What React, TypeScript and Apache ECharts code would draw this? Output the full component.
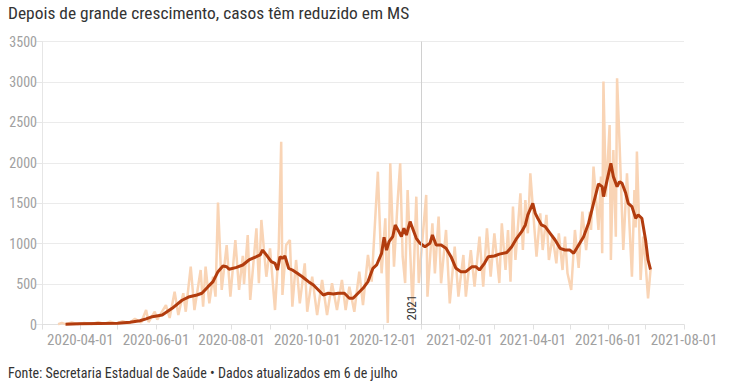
import React, { useEffect, useRef } from "react";
import * as echarts from "echarts";

const titleText = "Depois de grande crescimento, casos têm reduzido em MS";
const footerText = "Fonte: Secretaria Estadual de Saúde • Dados atualizados em 6 de julho";

const tickDates = [
  "2020-03-01", "2020-04-01", "2020-05-01", "2020-06-01", "2020-07-01", "2020-08-01",
  "2020-09-01", "2020-10-01", "2020-11-01", "2020-12-01", "2021-01-01", "2021-02-01",
  "2021-03-01", "2021-04-01", "2021-05-01", "2021-06-01", "2021-07-01", "2021-08-01",
];
const labelDates = [
  "2020-04-01", "2020-06-01", "2020-08-01", "2020-10-01", "2020-12-01",
  "2021-02-01", "2021-04-01", "2021-06-01", "2021-08-01",
];
const yTicks = [0, 500, 1000, 1500, 2000, 2500, 3000, 3500];

// 7-day moving average (dark line)
const maDates = [
  "2020-03-20", "2020-03-31", "2020-04-16", "2020-05-01", "2020-05-11", "2020-05-19", "2020-05-24", "2020-05-29",
  "2020-06-06", "2020-06-14", "2020-06-22", "2020-06-28", "2020-07-04", "2020-07-08", "2020-07-13", "2020-07-17",
  "2020-07-21", "2020-07-25", "2020-07-28", "2020-07-30", "2020-08-05", "2020-08-10", "2020-08-15", "2020-08-21",
  "2020-08-24", "2020-08-26", "2020-08-29", "2020-09-02", "2020-09-05", "2020-09-07", "2020-09-09", "2020-09-11",
  "2020-09-13", "2020-09-16", "2020-09-19", "2020-09-23", "2020-09-27", "2020-10-02", "2020-10-06", "2020-10-10",
  "2020-10-14", "2020-10-18", "2020-10-22", "2020-10-26", "2020-10-31", "2020-11-04", "2020-11-07", "2020-11-11",
  "2020-11-15", "2020-11-19", "2020-11-23", "2020-11-26", "2020-11-30", "2020-12-02", "2020-12-04", "2020-12-06",
  "2020-12-09", "2020-12-11", "2020-12-14", "2020-12-16", "2020-12-18", "2020-12-20", "2020-12-23", "2020-12-24",
  "2020-12-28", "2020-12-31", "2021-01-04", "2021-01-08", "2021-01-10", "2021-01-13", "2021-01-17", "2021-01-21",
  "2021-01-25", "2021-01-29", "2021-02-02", "2021-02-06", "2021-02-11", "2021-02-14", "2021-02-17", "2021-02-21",
  "2021-02-24", "2021-03-01", "2021-03-05", "2021-03-11", "2021-03-15", "2021-03-19", "2021-03-23", "2021-03-26",
  "2021-03-28", "2021-04-01", "2021-04-03", "2021-04-05", "2021-04-08", "2021-04-11", "2021-04-15", "2021-04-19",
  "2021-04-23", "2021-04-27", "2021-05-01", "2021-05-04", "2021-05-08", "2021-05-12", "2021-05-16", "2021-05-20",
  "2021-05-24", "2021-05-27", "2021-05-28", "2021-05-31", "2021-06-03", "2021-06-05", "2021-06-08", "2021-06-10",
  "2021-06-12", "2021-06-15", "2021-06-17", "2021-06-20", "2021-06-23", "2021-06-25", "2021-06-28", "2021-07-01",
  "2021-07-03", "2021-07-05",
];
const maValues = [
  4, 8, 12, 16, 28, 47, 70, 97,
  117, 200, 300, 344, 365, 386, 468, 530,
  653, 724, 715, 683, 707, 736, 798, 839,
  860, 921, 860, 777, 757, 674, 839, 818,
  847, 695, 674, 633, 591, 530, 489, 427,
  365, 386, 377, 386, 386, 324, 324, 386,
  448, 530, 695, 736, 880, 1080, 920, 1024,
  1086, 1231, 1148, 1086, 1190, 1107, 1272, 1231,
  1066, 1004, 962, 1004, 1107, 983, 983, 942,
  839, 695, 653, 653, 715, 715, 674, 757,
  839, 847, 870, 890, 962, 1066, 1148, 1231,
  1355, 1499, 1375, 1314, 1231, 1210, 1128, 1045,
  942, 921, 921, 880, 983, 1086, 1252, 1499,
  1738, 1705, 1581, 1788, 1994, 1829, 1705, 1767,
  1746, 1623, 1499, 1458, 1314, 1355, 1314, 1045,
  798, 680,
];

// daily new cases (light line), read at weekly highs and lows
const rawDates = [
  "2020-03-14", "2020-03-17", "2020-03-20", "2020-03-25", "2020-03-30", "2020-04-04", "2020-04-10", "2020-04-15",
  "2020-04-20", "2020-04-25", "2020-04-30", "2020-05-05", "2020-05-10", "2020-05-15", "2020-05-20", "2020-05-24",
  "2020-05-26", "2020-05-31", "2020-06-02", "2020-06-09", "2020-06-12", "2020-06-16", "2020-06-19", "2020-06-23",
  "2020-06-25", "2020-06-29", "2020-07-02", "2020-07-07", "2020-07-09", "2020-07-11", "2020-07-14", "2020-07-17",
  "2020-07-19", "2020-07-21", "2020-07-24", "2020-07-28", "2020-07-31", "2020-08-04", "2020-08-07", "2020-08-10",
  "2020-08-11", "2020-08-14", "2020-08-16", "2020-08-21", "2020-08-23", "2020-08-25", "2020-08-29", "2020-09-01",
  "2020-09-05", "2020-09-08", "2020-09-10", "2020-09-11", "2020-09-14", "2020-09-17", "2020-09-19", "2020-09-22",
  "2020-09-25", "2020-09-29", "2020-10-01", "2020-10-05", "2020-10-09", "2020-10-13", "2020-10-17", "2020-10-21",
  "2020-10-25", "2020-10-29", "2020-11-01", "2020-11-04", "2020-11-08", "2020-11-12", "2020-11-15", "2020-11-19",
  "2020-11-22", "2020-11-27", "2020-11-30", "2020-12-03", "2020-12-05", "2020-12-07", "2020-12-10", "2020-12-13",
  "2020-12-15", "2020-12-17", "2020-12-19", "2020-12-21", "2020-12-25", "2020-12-28", "2020-12-30", "2021-01-05",
  "2021-01-06", "2021-01-10", "2021-01-12", "2021-01-15", "2021-01-17", "2021-01-21", "2021-01-24", "2021-01-28",
  "2021-01-31", "2021-02-04", "2021-02-06", "2021-02-10", "2021-02-13", "2021-02-17", "2021-02-20", "2021-02-23",
  "2021-02-26", "2021-03-01", "2021-03-05", "2021-03-07", "2021-03-10", "2021-03-12", "2021-03-14", "2021-03-16",
  "2021-03-18", "2021-03-22", "2021-03-24", "2021-03-26", "2021-03-28", "2021-03-30", "2021-04-04", "2021-04-07",
  "2021-04-09", "2021-04-12", "2021-04-14", "2021-04-17", "2021-04-20", "2021-04-22", "2021-04-25", "2021-04-27",
  "2021-04-29", "2021-05-02", "2021-05-05", "2021-05-08", "2021-05-11", "2021-05-14", "2021-05-17", "2021-05-18",
  "2021-05-20", "2021-05-24", "2021-05-26", "2021-05-27", "2021-05-28", "2021-05-30", "2021-06-02", "2021-06-03",
  "2021-06-05", "2021-06-07", "2021-06-08", "2021-06-10", "2021-06-13", "2021-06-16", "2021-06-20", "2021-06-22",
  "2021-06-23", "2021-06-24", "2021-06-26", "2021-06-27", "2021-06-29", "2021-07-01", "2021-07-03", "2021-07-05",
];
const rawValues = [
  3, 20, 5, 25, 5, 20, 5, 30,
  8, 35, 10, 40, 12, 70, 25, 179,
  30, 158, 60, 241, 80, 406, 117, 386,
  158, 715, 179, 674, 220, 715, 262, 591,
  344, 1507, 427, 983, 344, 1045, 427, 850,
  500, 1107, 303, 1190, 510, 1293, 591, 942,
  179, 942, 2261, 365, 983, 1045, 220, 798,
  262, 757, 158, 591, 117, 550, 117, 510,
  179, 550, 179, 468, 158, 653, 241, 860,
  530, 1890, 633, 1314, 20, 1994, 715, 1540,
  1994, 839, 513, 1664, 200, 1581, 513, 1602,
  344, 1252, 633, 1334, 510, 1169, 262, 962,
  344, 860, 344, 921, 468, 1086, 468, 1190,
  591, 1128, 513, 1252, 674, 1169, 530, 1458,
  798, 1623, 921, 1540, 1128, 1870, 839, 1375,
  921, 1355, 798, 1086, 757, 1128, 674, 1086,
  633, 427, 1169, 700, 1396, 921, 1396, 1169,
  1953, 1169, 1829, 880, 3004, 1581, 2468, 798,
  2159, 1086, 3046, 2241, 921, 1870, 591, 1664,
  1200, 2138, 1128, 550, 1086, 757, 324, 674,
];

const FONT = "'Roboto Condensed', 'Liberation Sans Narrow', 'Arial Narrow', Roboto, sans-serif";

function parseDate(s: string): number {
  return Date.UTC(+s.slice(0, 4), +s.slice(5, 7) - 1, +s.slice(8, 10));
}
function pad(n: number): string {
  return n < 10 ? "0" + n : "" + n;
}
function fmtDate(v: number): string {
  const d = new Date(Math.round(v));
  return `${d.getUTCFullYear()}-${pad(d.getUTCMonth() + 1)}-${pad(d.getUTCDate())}`;
}

export default function App() {
  const ref = useRef<HTMLDivElement>(null);
  useEffect(() => {
    if (!ref.current) return;
    const chart = echarts.init(ref.current, undefined, { renderer: "svg" });
    const raw = rawDates.map((d, i) => [parseDate(d), rawValues[i]]);
    const ma = maDates.map((d, i) => [parseDate(d), maValues[i]]);
    chart.setOption({
      animation: false,
      backgroundColor: "#ffffff",
      textStyle: { fontFamily: FONT },
      title: [
        {
          text: titleText,
          left: 8,
          top: 4,
          padding: 0,
          textStyle: { fontFamily: FONT, fontSize: 17.4, fontWeight: "normal", color: "#333333" },
        },
        {
          text: footerText,
          left: 8,
          top: 366,
          padding: 0,
          textStyle: { fontFamily: FONT, fontSize: 14, fontWeight: "normal", color: "#333333" },
        },
      ],
      grid: { left: 42, right: 47, top: 41.5, bottom: 64.5, containLabel: false },
      xAxis: {
        type: "value",
        min: parseDate(tickDates[0]),
        max: parseDate(tickDates[tickDates.length - 1]),
        axisLine: { show: true, lineStyle: { color: "#e0e0e0", width: 1 } },
        axisTick: {
          show: true,
          length: 5,
          customValues: tickDates.map(parseDate),
          lineStyle: { color: "#e0e0e0" },
        },
        axisLabel: {
          customValues: labelDates.map(parseDate),
          formatter: (v: number) => fmtDate(v),
          color: "#a0a0a0",
          fontSize: 15,
          fontFamily: FONT,
          margin: 8,
          hideOverlap: false,
        },
        splitLine: { show: false },
      },
      yAxis: {
        type: "value",
        min: yTicks[0],
        max: yTicks[yTicks.length - 1],
        interval: 500,
        axisLine: { show: true, lineStyle: { color: "#e6e6e6" } },
        axisTick: { show: true, length: 6, lineStyle: { color: "#e6e6e6" } },
        axisLabel: {
          color: "#a0a0a0",
          fontSize: 14,
          fontFamily: FONT,
          margin: 5,
          formatter: (v: number) => String(v),
        },
        splitLine: { show: true, lineStyle: { color: "#ebebeb", width: 1 } },
      },
      series: [
        {
          name: "Casos",
          type: "line",
          data: raw,
          symbol: "none",
          lineStyle: { color: "#f9d4b5", width: 2.5 },
          itemStyle: { color: "#f9d4b5" },
          z: 2,
          markLine: {
            silent: true,
            symbol: ["none", "none"],
            data: [{ xAxis: parseDate("2021-01-01") }],
            lineStyle: { color: "#d0d0d0", width: 1, type: "solid" },
            label: {
              show: true,
              formatter: "2021",
              position: "insideStartTop",
              color: "#333333",
              fontSize: 13,
              fontFamily: FONT,
              distance: [4, 3],
            },
          },
        },
        {
          name: "Média móvel",
          type: "line",
          data: ma,
          symbol: "none",
          smooth: false,
          lineStyle: { color: "#b23c0e", width: 3 },
          itemStyle: { color: "#b23c0e" },
          z: 3,
        },
      ],
    });
    return () => chart.dispose();
  }, []);
  return (
    <div
      ref={ref}
      style={{ position: "fixed", left: 0, top: 0, width: 731, height: 389, background: "#fff" }}
    />
  );
}
